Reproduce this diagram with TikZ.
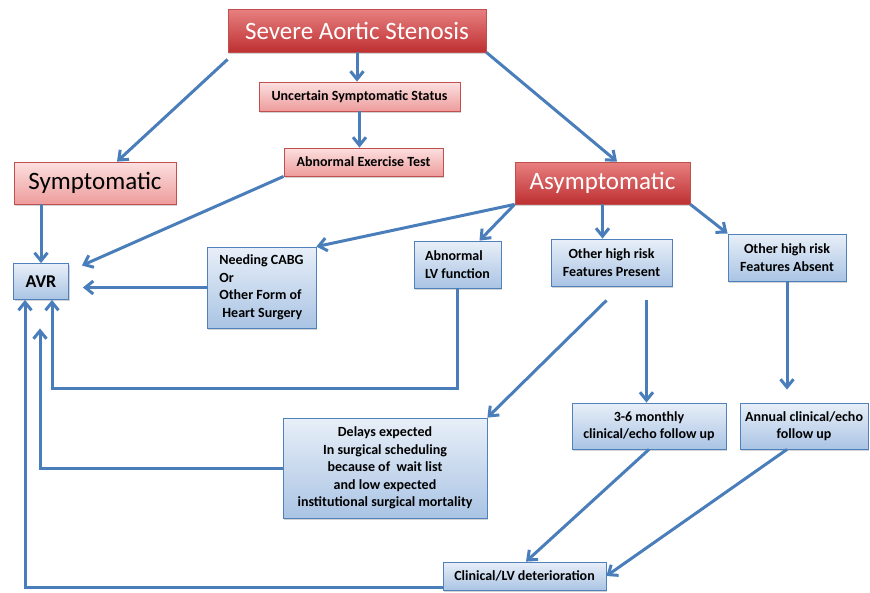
\documentclass[tikz,border=0pt]{standalone}
\usepackage{fontspec}
\setmainfont{Carlito}
\usepackage{xcolor}
\usetikzlibrary{arrows.meta}
\usetikzlibrary{calc, shadows}

\definecolor{linkblue}{RGB}{74,126,187}
\definecolor{redtop}{RGB}{232,128,128}
\definecolor{redbot}{RGB}{190,48,50}
\definecolor{redline}{RGB}{192,80,77}
\definecolor{pinktop}{RGB}{252,224,224}
\definecolor{pinkbot}{RGB}{238,156,156}
\definecolor{bluetop}{RGB}{232,239,248}
\definecolor{bluebot}{RGB}{170,196,228}
\definecolor{blueline}{RGB}{79,129,189}

\begin{document}
\begin{tikzpicture}[x=1pt, y=-1pt,
    flowbox/.style={line width=0.8pt, inner sep=2pt,
        drop shadow={opacity=0.35, shadow xshift=1.2pt, shadow yshift=-1.6pt}},
    redbox/.style={flowbox, draw=redline, top color=redtop, bottom color=redbot,
        text=white, font=\fontsize{25}{30}\selectfont},
    pinkbox/.style={flowbox, draw=redline, top color=pinktop, bottom color=pinkbot,
        font=\bfseries\fontsize{14}{17}\selectfont},
    bluebox/.style={flowbox, draw=blueline, top color=bluetop, bottom color=bluebot,
        font=\bfseries\fontsize{14}{17.5}\selectfont, align=center},
    link/.style={draw=linkblue, line width=3pt, -{Straight Barb[length=8pt,width=13pt]}}]
    \useasboundingbox (0,0) rectangle (870,592);

    % red and pink boxes on top
    \node[redbox, minimum width=258pt, minimum height=43pt] (sas) at (357,30.5) {Severe Aortic Stenosis};
    \node[pinkbox, minimum width=201pt, minimum height=29pt] (unc) at (359.5,96.5) {Uncertain Symptomatic Status};
    \node[pinkbox, minimum width=159pt, minimum height=28pt] (abex) at (363.5,162) {Abnormal Exercise Test};
    \node[pinkbox, font=\fontsize{25}{30}\selectfont, minimum width=162pt, minimum height=42pt] (symp) at (95,183) {Symptomatic};
    \node[redbox, minimum width=175pt, minimum height=42pt] (asymp) at (602.5,183) {Asymptomatic};

    % blue boxes
    \node[bluebox, font=\bfseries\fontsize{18}{21}\selectfont, minimum width=55pt, minimum height=36pt] (avr) at (41,281.5) {AVR};
    \node[bluebox, align=left, minimum width=109pt, minimum height=81pt] (cabg) at (261.5,287.5)
        {Needing CABG\\Or\\Other Form of\\\hspace*{3pt}Heart Surgery};
    \node[bluebox, align=left, minimum width=87pt, minimum height=47pt] (lvf) at (457.5,264.5) {Abnormal\\LV function};
    \node[bluebox, minimum width=121pt, minimum height=47pt] (hrpres) at (611.5,262.5) {Other high risk\\Features Present};
    \node[bluebox, minimum width=118pt, minimum height=47pt] (hrabs) at (787,257.5) {Other high risk\\Features Absent};
    \node[bluebox, minimum width=204pt, minimum height=100pt] (delay) at (385,468)
        {Delays expected\\In surgical scheduling\\because of\ \ wait list\\and low expected\\institutional surgical mortality};
    \node[bluebox, minimum width=154pt, minimum height=46pt] (monthly) at (649,426) {3-6 monthly\\clinical/echo follow up};
    \node[bluebox, minimum width=128pt, minimum height=46pt] (annual) at (804,426) {Annual clinical/echo\\follow up};
    \node[bluebox, minimum width=163pt, minimum height=28pt] (deter) at (524.5,576) {Clinical/LV deterioration};

    % from the top box
    \draw[link] ([yshift=-7pt]sas.south west) -- ([xshift=22pt]symp.north);
    \draw[link] (sas.south) -- (sas.south |- unc.north);
    \draw[link] (unc.south) -- (unc.south |- abex.north);
    \draw[link] (sas.south east) -- ([xshift=14.5pt]asymp.north);
    \draw[link] (symp.south -| avr.north) -- (avr.north);
    \draw[link] (abex.south west) -- ([xshift=13pt,yshift=16pt]avr.east);

    % asymptomatic branches
    \draw[link] (asymp.south west) -- (cabg.north east);
    \draw[link] (asymp.south west) -- ([xshift=22pt]lvf.north);
    \draw[link] (asymp.south) -- (asymp.south |- hrpres.north);
    \draw[link] (asymp.south east) -- (hrabs.north west);
    \draw[link] (cabg.west) -- ($(cabg.west -| avr.east)+(14,0)$);
    \draw[link] (lvf.south) -- ++(0,100) -| ([xshift=11pt]avr.south);

    % high risk features
    \draw[link] ($(hrpres.south)+(-5,14)$) -- (delay.north east);
    \draw[link] ($(hrpres.south)+(35,14)$) -- ($(hrpres.south |- monthly.north)+(35,0)$);
    \draw[link] (hrabs.south) -- ($(hrabs.south |- annual.north)+(0,-13)$);
    \draw[link] (delay.west) -| ($(avr.south)+(-1,28.5)$);

    % follow up and deterioration
    \draw[link] (monthly.south) -- ([xshift=1.5pt]deter.north);
    \draw[link] ([xshift=-17pt]annual.south) -- (deter.east);
    \draw[link] ([yshift=-11pt]deter.west) -| ([xshift=-16pt]avr.south);
\end{tikzpicture}
\end{document}
